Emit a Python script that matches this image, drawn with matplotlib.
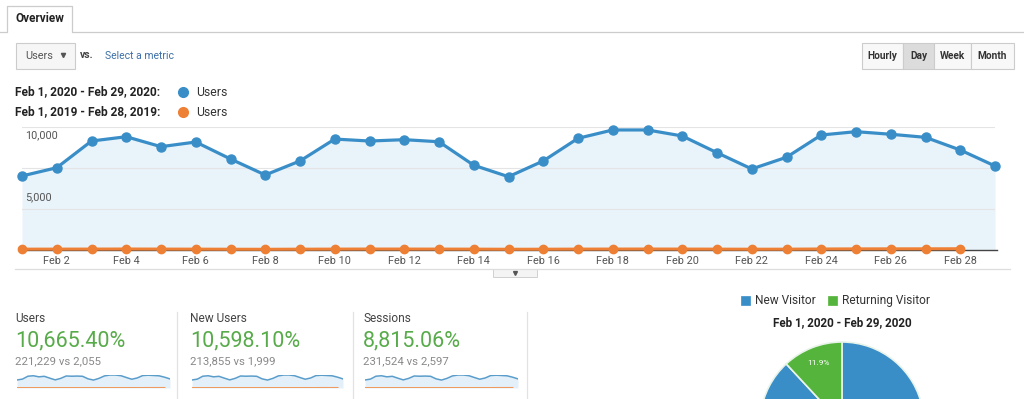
import matplotlib
matplotlib.use("Agg")
import matplotlib.pyplot as plt
from matplotlib.patches import Rectangle

W, H = 1024, 399
plt.rcParams['font.family'] = ['Roboto', 'DejaVu Sans']

# --- data -----------------------------------------------------------------
days_2020 = list(range(1, 30))
days_2019 = list(range(1, 29))
users_2020 = [6020, 6690, 8860, 9210, 8400, 8780, 7400, 6100, 7240, 9020,
              8860, 8970, 8800, 6890, 5960, 7240, 9080, 9760, 9760, 9270,
              7910, 6590, 7540, 9350, 9620, 9410, 9160, 8130, 6830]
users_2019 = [68, 72, 75, 80, 74, 70, 62, 58, 66, 73, 78, 76, 74, 70,
              60, 64, 72, 77, 79, 75, 71, 63, 68, 82, 90, 95, 96, 102]
tick_days = [2, 4, 6, 8, 10, 12, 14, 16, 18, 20, 22, 24, 26, 28]
tick_labels = ["Feb %d" % d for d in tick_days]
y_labels = [(10000, "10,000"), (5000, "5,000")]

range_2020 = "Feb 1, 2020 - Feb 29, 2020"
range_2019 = "Feb 1, 2019 - Feb 28, 2019"

card_titles = ["Users", "New Users", "Sessions"]
card_changes = ["10,665.40%", "10,598.10%", "8,815.06%"]
card_totals = ["221,229 vs 2,055", "213,855 vs 1,999", "231,524 vs 2,597"]

visitor_types = ["New Visitor", "Returning Visitor"]
visitor_share = [88.1, 11.9]

buttons = ["Hourly", "Day", "Week", "Month"]

BLUE = '#3a8ec8'
ORANGE = '#ee8035'
GREEN = '#58ab4a'
PIE_GREEN = '#55b43b'
FILL = '#e9f3fa'

fig = plt.figure(figsize=(W / 100, H / 100), dpi=100)
fig.patch.set_facecolor('white')

# overlay in pixel coordinates for the page chrome
ui = fig.add_axes([0, 0, 1, 1], zorder=0)
ui.set_xlim(0, W)
ui.set_ylim(H, 0)
ui.axis('off')


def box(x0, y0, x1, y1, face='white', edge='#cccccc', lw=0.8):
    ui.add_patch(Rectangle((x0, y0), x1 - x0, y1 - y0, facecolor=face,
                           edgecolor=edge, linewidth=lw))


def px_axes(x0, y0, x1, y1, **kw):
    return fig.add_axes([x0 / W, 1 - y1 / H, (x1 - x0) / W, (y1 - y0) / H], **kw)


# Overview tab
ui.plot([0, 7, 7, 72, 72, W], [32, 32, 6, 6, 32, 32], color='#cccccc', lw=0.9)
ui.text(15, 19, "Overview", fontsize=8.5, fontweight='bold', color='#222',
        va='center')

# metric selector
box(16, 43, 75, 69, face='#f6f6f6')
ui.text(25, 56, "Users", fontsize=7.8, color='#555', va='center')
ui.plot(63, 55, marker='v', ms=3, color='#555')
ui.text(80, 55, "vs.", fontsize=7.5, color='#444', fontweight='bold', va='center')
ui.text(105, 56, "Select a metric", fontsize=7.5, color='#3d6fa8', va='center')

# Hourly / Day / Week / Month
edges = [862, 903, 934, 971, 1014]
for i, lab in enumerate(buttons):
    face = '#dcdcdc' if lab == "Day" else '#f8f8f8'
    box(edges[i], 43, edges[i + 1], 69, face=face)
    ui.text((edges[i] + edges[i + 1]) / 2, 56, lab, fontsize=7.3,
            fontweight='bold', color='#333', ha='center', va='center')

# legend of the comparison
for y, rng, col in [(92, range_2020, BLUE), (112, range_2019, ORANGE)]:
    ui.text(15, y, rng + ":", fontsize=8.6, fontweight='bold', color='#222',
            va='center')
    ui.plot(183, y, 'o', ms=7, color=col)
    ui.text(196, y, "Users", fontsize=8.8, color='#333', va='center')

# main chart
ax = px_axes(22, 127, 995, 250, zorder=2)
ax.set_facecolor('none')
ax.fill_between(days_2020, users_2020, color=FILL, lw=0)
for v in [3333, 6667, 10000]:
    ax.axhline(v, color='#e4e4e4', lw=0.8, zorder=1)
ax.plot([1, 29.07], [0, 0], color='#444', lw=1.0, clip_on=False, zorder=2)
ax.plot(days_2020, users_2020, color=BLUE, lw=2.3, marker='o', ms=6.5,
        clip_on=False, zorder=4)
ax.plot(days_2019, users_2019, color=ORANGE, lw=2.2, marker='o', ms=6,
        clip_on=False, zorder=5)
ax.set_xlim(1, 29)
ax.set_ylim(0, 10000)
ax.set_yticks([])
ax.set_xticks(tick_days)
ax.set_xticklabels(tick_labels, fontsize=7.8, color='#555')
ax.tick_params(axis='x', length=0, pad=4.5)
for s in ax.spines.values():
    s.set_visible(False)
# value labels sit just under their level, inside the plot
for val, lab in y_labels:
    ax.annotate(lab, (1, val), xytext=(2, -6), textcoords='offset points',
                fontsize=7.8, color='#555', va='center', zorder=6)

# divider under the chart with the little collapse tab
ui.plot([15, 1010], [269, 269], color='#dddddd', lw=0.9)
box(493, 269, 537, 277, face='#f4f4f4', edge='#d0d0d0', lw=0.7)
ui.plot(515, 272.5, marker='v', ms=2.8, color='#555')

# scorecards
card_x = [15, 190, 363]
spark_x = [(17, 170), (192, 343), (365, 518)]
for x in [177, 353, 527]:
    ui.plot([x, x], [312, H], color='#e2e2e2', lw=0.9)
for i in range(3):
    x = card_x[i]
    ui.text(x, 318, card_titles[i], fontsize=8.6, color='#444', va='center')
    ui.text(x, 341, card_changes[i], fontsize=15.5, color=GREEN, va='center')
    ui.text(x, 361, card_totals[i], fontsize=8.2, color='#888', va='center')
    sx0, sx1 = spark_x[i]
    sp = px_axes(sx0, 374.7, sx1, 388)
    sp.fill_between(days_2020, users_2020, color='#e4f0f9', lw=0)
    sp.plot(days_2020, users_2020, color='#5a9dcb', lw=1.1)
    sp.plot(days_2019, users_2019, color='#ef9a5e', lw=1.3)
    sp.set_xlim(1, 29)
    sp.set_ylim(0, 10000)
    sp.axis('off')

# visitor pie
for x, lab, col in [(741, visitor_types[0], BLUE), (828, visitor_types[1], PIE_GREEN)]:
    box(x, 296, x + 9, 305, face=col, edge=col, lw=0.5)
    ui.text(x + 14, 300.5, lab, fontsize=8.6, color='#333', va='center')
ui.text(842, 323, range_2020, fontsize=8.4, fontweight='bold', color='#222',
        ha='center', va='center')

pie_ax = px_axes(760, 342, 924, 506)
wedges, _, autotexts = pie_ax.pie(
    visitor_share, colors=[BLUE, PIE_GREEN], startangle=90, counterclock=False,
    autopct=lambda p: '%.1f%%' % p if p < 50 else '', pctdistance=0.8,
    wedgeprops=dict(edgecolor='#e8f4ea', linewidth=1.2))
for t in autotexts:
    t.set_color('white')
    t.set_fontsize(6)
pie_ax.set_xlim(-1, 1)
pie_ax.set_ylim(-1, 1)
pie_ax.set_aspect('equal')

fig.savefig("out.png", dpi=100)
